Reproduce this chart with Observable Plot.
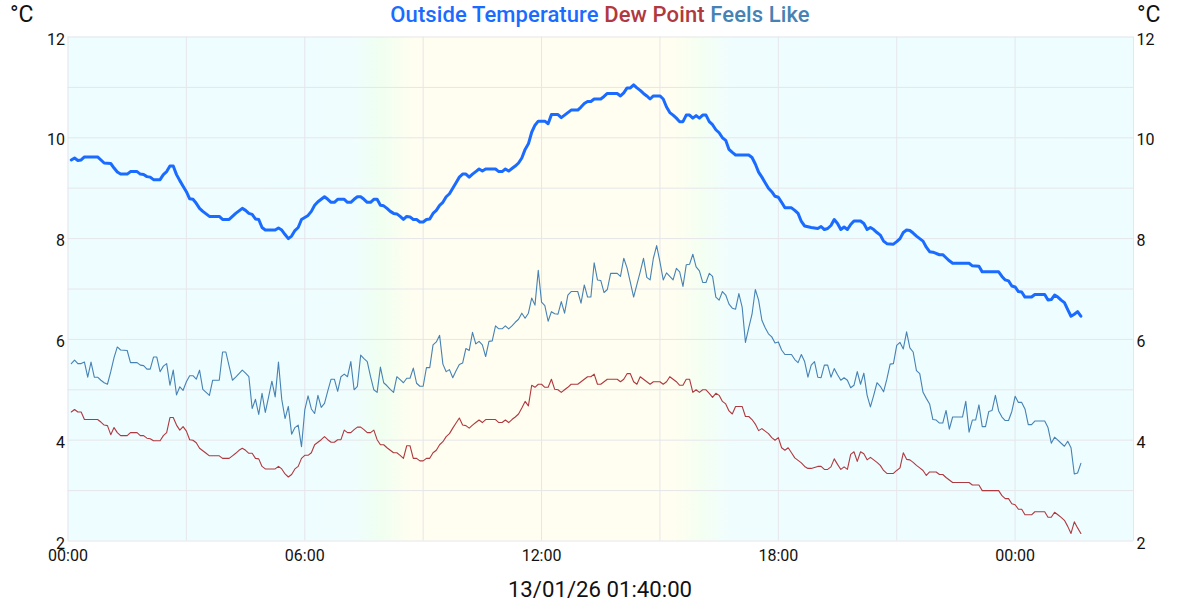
<!DOCTYPE html>
<html><head><meta charset="utf-8">
<script src="https://cdn.jsdelivr.net/npm/d3@7"></script>
<script src="https://cdn.jsdelivr.net/npm/@observablehq/plot@0.6"></script>
<style>
html,body{margin:0;padding:0;background:#fff;font-family:Roboto,sans-serif;color:#111}
#wrap{position:relative;width:1200px;height:600px;overflow:hidden}
#title{position:absolute;left:0;right:0;top:2px;text-align:center;font-size:22px;font-weight:500;line-height:26px;letter-spacing:.1px}
.unit{position:absolute;top:2px;font-size:23px;line-height:26px}
#chart{position:absolute;left:0;top:30px}
#caption{position:absolute;left:0;right:0;top:579px;text-align:center;font-size:22.2px;line-height:20px;font-weight:400}
svg text{font-family:Roboto,sans-serif}
</style></head><body>
<div id="wrap">
<div id="title"></div>
<div class="unit" style="left:10px">°C</div>
<div class="unit" style="left:1137px">°C</div>
<div id="chart"></div>
<div id="caption"></div>
</div>
<script>
// Sample numbers are 5-minute steps after 00:00; only the drawn vertices are listed.
const tempStep=[1,2,3,4,5,9,11,13,14,15,16,18,19,21,22,23,24,25,26,28,29,30,31,32,33,34,35,36,37,38,39,40,41,42,43,46,47,49,50,51,52,53,54,55,56,57,58,59,60,63,64,65,66,67,68,69,70,71,72,73,74,75,76,77,78,79,80,81,82,84,85,86,87,88,89,90,91,92,93,94,95,96,97,98,99,100,101,102,103,104,105,106,107,108,109,110,111,112,113,114,115,116,117,118,119,120,121,122,123,124,125,126,127,130,131,132,133,134,135,136,137,138,139,140,141,142,143,145,146,147,149,150,151,152,153,155,156,157,158,159,160,162,163,164,167,168,169,170,171,172,173,174,175,176,177,178,180,181,182,183,184,185,186,187,188,189,190,191,192,193,194,195,196,197,198,199,200,201,202,203,207,208,209,210,211,212,213,214,215,216,217,218,220,221,222,223,224,226,228,229,230,231,232,233,234,235,236,237,238,239,241,242,243,244,245,246,247,248,249,251,252,253,254,255,256,257,258,259,260,261,262,263,265,266,267,268,269,274,275,277,278,283,284,285,286,287,288,289,290,291,293,294,297,298,299,300,301,302,303,304,305,306,307,308];
const tempVal=[9.56,9.6,9.55,9.56,9.62,9.62,9.5,9.49,9.4,9.32,9.28,9.28,9.33,9.33,9.28,9.27,9.23,9.22,9.17,9.17,9.27,9.33,9.44,9.44,9.27,9.15,9.04,8.93,8.79,8.78,8.7,8.6,8.54,8.49,8.44,8.44,8.38,8.38,8.44,8.5,8.55,8.6,8.56,8.5,8.48,8.39,8.38,8.22,8.17,8.17,8.21,8.17,8.08,8,8.05,8.16,8.22,8.38,8.42,8.46,8.54,8.66,8.73,8.78,8.83,8.78,8.72,8.72,8.78,8.78,8.72,8.72,8.78,8.83,8.83,8.78,8.72,8.72,8.78,8.78,8.66,8.65,8.6,8.54,8.5,8.49,8.44,8.38,8.44,8.43,8.38,8.38,8.33,8.33,8.38,8.39,8.5,8.56,8.66,8.72,8.83,8.89,9,9.11,9.22,9.28,9.28,9.22,9.28,9.33,9.38,9.34,9.38,9.38,9.33,9.33,9.38,9.34,9.39,9.44,9.5,9.6,9.77,9.88,10.11,10.25,10.33,10.33,10.28,10.46,10.46,10.4,10.45,10.5,10.55,10.55,10.61,10.68,10.72,10.72,10.77,10.77,10.82,10.88,10.88,10.83,10.89,10.99,10.99,11.05,10.99,10.94,10.88,10.83,10.77,10.83,10.83,10.77,10.61,10.5,10.45,10.39,10.32,10.32,10.45,10.45,10.39,10.44,10.39,10.45,10.45,10.32,10.26,10.16,10.1,10,9.95,9.77,9.71,9.66,9.66,9.61,9.48,9.32,9.22,9.11,9,8.93,8.84,8.82,8.72,8.61,8.61,8.56,8.5,8.34,8.25,8.22,8.2,8.24,8.18,8.2,8.26,8.38,8.3,8.18,8.23,8.18,8.28,8.35,8.35,8.3,8.18,8.22,8.18,8.12,8.07,7.95,7.9,7.89,7.94,8,8.12,8.17,8.16,8.11,8.05,8,7.95,7.83,7.74,7.73,7.68,7.68,7.62,7.56,7.51,7.51,7.46,7.45,7.34,7.34,7.25,7.18,7.16,7.06,7.04,6.95,6.94,6.84,6.84,6.89,6.89,6.78,6.79,6.88,6.84,6.78,6.73,6.59,6.46,6.5,6.55,6.46];
const dewStep=[1,2,3,4,5,9,10,11,12,13,14,15,16,18,19,21,22,23,24,25,26,28,29,30,31,32,33,34,35,36,37,38,39,40,41,42,43,46,47,49,50,51,52,53,54,55,56,57,58,59,60,63,64,65,66,67,68,69,70,71,72,73,74,75,76,77,78,79,80,81,82,83,84,85,86,87,88,89,90,91,92,93,94,95,96,97,98,99,100,101,102,103,104,105,106,107,108,109,110,111,112,113,114,115,116,117,118,119,120,121,122,123,124,125,126,127,130,131,132,133,134,135,136,137,138,139,140,141,142,143,144,145,146,147,148,149,150,151,152,153,155,156,157,158,159,160,161,162,163,164,167,168,169,170,171,172,173,174,175,176,177,178,180,181,182,183,184,185,186,187,188,189,190,191,192,193,194,195,196,197,198,199,200,201,202,203,205,206,207,208,209,210,211,212,213,214,215,216,217,218,219,220,221,222,223,224,225,226,228,229,230,231,232,233,234,235,236,237,238,239,240,241,242,243,244,245,246,247,248,249,251,252,253,254,255,256,257,258,259,260,261,262,264,265,266,267,268,269,274,275,277,278,283,284,285,286,287,288,289,290,291,293,294,297,298,299,300,301,302,303,304,305,306,307,308];
const dewVal=[4.56,4.61,4.56,4.56,4.41,4.41,4.36,4.3,4.29,4.11,4.25,4.15,4.09,4.09,4.15,4.15,4.09,4.09,4.04,4.03,3.99,3.99,4.09,4.15,4.45,4.45,4.3,4.2,4.27,4.18,4.01,4,3.95,3.84,3.79,3.74,3.69,3.69,3.64,3.64,3.69,3.74,3.8,3.84,3.8,3.74,3.74,3.64,3.63,3.48,3.43,3.43,3.48,3.43,3.33,3.27,3.32,3.43,3.48,3.64,3.7,3.7,3.75,3.91,3.96,4.01,4.07,4.01,3.96,3.96,4.01,4.01,4.2,4.15,4.15,4.21,4.26,4.26,4.21,4.15,4.15,4.2,4.01,3.91,3.91,3.85,3.8,3.75,3.75,3.7,3.64,3.89,3.89,3.64,3.64,3.59,3.59,3.64,3.64,3.75,3.8,3.91,3.97,4.07,4.13,4.24,4.34,4.44,4.3,4.29,4.24,4.3,4.35,4.4,4.35,4.41,4.41,4.35,4.35,4.4,4.35,4.41,4.46,4.52,4.64,4.77,4.68,5.09,5.05,5.11,5.11,5.05,5.05,5.21,5.01,5,4.95,5,5.05,5.11,5.11,5.16,5.21,5.26,5.26,5.31,5.11,5.11,5.16,5.21,5.21,5.16,5.21,5.32,5.32,5.16,5.11,5.26,5.21,5.16,5.11,5.16,5.16,5.11,5.16,5.26,5.21,5.16,5.09,5.09,5.21,5.21,4.95,5,4.95,5,5,4.93,4.85,4.93,4.89,4.77,4.72,4.58,4.52,4.67,4.67,4.47,4.47,4.41,4.32,4.19,4.23,4.18,4.13,4.05,4,4.05,3.85,3.8,3.85,3.75,3.65,3.6,3.55,3.48,3.44,3.44,3.48,3.48,3.42,3.42,3.47,3.63,3.52,3.42,3.47,3.42,3.72,3.77,3.58,3.77,3.73,3.61,3.66,3.61,3.56,3.5,3.4,3.34,3.34,3.4,3.45,3.75,3.62,3.61,3.56,3.5,3.45,3.4,3.3,3.37,3.37,3.32,3.32,3.26,3.21,3.16,3.16,3.11,3.11,3,3,2.9,2.84,2.84,2.74,2.72,2.63,2.63,2.52,2.52,2.58,2.58,2.47,2.47,2.57,2.52,2.47,2.41,2.29,2.15,2.38,2.26,2.15];
const feelsStep=[1,2,3,4,5,6,7,8,9,10,11,12,13,14,15,16,18,19,21,22,23,24,25,26,27,28,29,30,31,32,33,34,35,36,37,38,39,40,41,42,43,44,46,47,48,49,50,51,52,53,54,55,56,57,58,59,60,61,62,63,64,65,66,67,68,69,70,71,72,73,74,75,76,77,78,79,80,81,82,83,84,85,86,87,88,89,90,91,92,93,94,95,96,97,98,99,100,101,102,103,104,105,106,107,108,109,110,111,112,113,114,115,116,117,118,119,120,121,122,123,124,125,126,127,128,129,130,131,132,133,134,135,136,137,138,139,140,141,142,143,144,145,146,147,148,149,150,151,152,153,155,156,157,158,159,160,161,162,163,164,165,167,168,169,170,171,172,173,174,175,176,177,178,179,180,181,182,183,184,185,186,187,188,189,190,191,192,193,194,195,196,197,198,199,200,201,202,203,204,205,206,207,208,209,210,211,212,213,214,215,216,217,218,220,221,222,223,224,225,226,227,228,229,230,231,232,233,234,235,236,237,238,239,240,241,242,243,244,245,246,247,248,249,250,251,252,253,254,255,256,257,258,259,260,261,262,263,264,265,266,267,268,269,272,273,274,275,276,277,278,279,280,281,282,283,284,285,286,287,288,289,290,291,292,293,294,297,298,299,300,301,302,303,304,305,306,307,308];
const feelsVal=[5.52,5.59,5.52,5.52,5.55,5.25,5.55,5.25,5.25,5.19,5.14,5.11,5.36,5.64,5.85,5.79,5.78,5.54,5.54,5.49,5.48,5.41,5.41,5.65,5.65,5.36,5.47,5.52,5.09,5.39,4.9,5.06,4.99,5.16,5.28,5.28,5.21,5.39,5.01,4.95,4.89,5.19,5.19,5.75,5.75,5.47,5.19,5.25,5.32,5.39,5.33,5.26,4.63,4.81,4.51,4.93,4.55,4.86,5.17,4.86,5.55,4.81,4.43,4.67,4.12,4.25,4.3,3.87,4.6,4.88,4.62,4.53,4.89,4.65,4.73,4.98,5.21,5.21,4.97,5.26,5.31,5.26,5.56,5,5.07,5.69,5.62,5.56,5.26,5,4.95,5.45,5.14,5.08,5.01,4.95,5.26,5.2,5.14,5.23,5.23,5.43,5.13,5.07,5.07,5.44,5.44,5.89,5.95,6.08,5.51,5.36,5.4,5.24,5.38,5.5,5.53,5.82,5.78,6.14,5.91,5.96,5.89,5.66,5.96,5.97,6.27,6.21,6.21,6.27,6.21,6.27,6.34,6.4,6.52,6.42,6.52,6.82,6.68,7.37,6.74,6.67,6.36,6.55,6.51,6.5,6.75,6.52,6.88,6.95,6.95,6.72,7.08,6.84,6.84,7.52,7.18,7.17,6.93,6.99,7.31,7.31,7.25,7.61,7.42,7.13,6.84,7.09,7.34,7.61,7.23,7.18,7.61,7.86,7.54,7.18,7.32,7.25,7.18,7.41,7.34,7.05,7.48,7.49,7.69,7.44,7.36,7.13,7.13,7.31,7.25,6.84,6.78,6.95,6.88,6.7,6.62,6.6,6.91,6.64,5.94,6.23,6.5,6.99,6.78,6.38,6.23,6.11,6.05,5.93,5.95,5.79,5.7,5.7,5.6,5.54,5.7,5.56,5.25,5.49,5.56,5.25,5.24,5.49,5.49,5.25,5.42,5.3,5.19,5.24,5.19,5.04,5.09,5.36,5.11,5.33,4.89,4.66,4.89,5.14,5.07,4.96,5.21,5.51,5.52,5.88,5.94,5.81,6.15,5.83,5.75,5.38,5.32,4.95,4.83,4.72,4.41,4.4,4.34,4.34,4.59,4.22,4.46,4.46,4.77,4.16,4.4,4.4,4.7,4.27,4.27,4.57,4.59,4.89,4.58,4.46,4.39,4.39,4.57,4.87,4.75,4.75,4.62,4.31,4.31,4.38,4.38,4.25,3.94,4.06,4,3.94,3.88,3.98,3.85,3.33,3.35,3.54];

const seriesNames=["Outside Temperature","Dew Point","Feels Like"];
const seriesColors=["#1a6bff","#b0393f","#4682b4"];
const yTicks=[2,4,6,8,10,12];
const yGrid=[2,3,4,5,6,7,8,9,10,11,12];
const xGridHours=[0,3,6,9,12,15,18,21,24,27];
const xTickHours=[0,6,12,18,24];
const captionText="13/01/26 01:40:00";
const bgStopHours=[0,7.2,7.95,8.7,15.4,16.05,16.85,27];
const bgStopColors=["#eefdff","#effdff","#f0fff0","#fffef0","#fffef0","#f4fff2","#effdff","#eefdff"];

document.getElementById("title").innerHTML=seriesNames.map((n,i)=>`<span style="color:${seriesColors[i]}">${n}</span>`).join(" ");
document.getElementById("caption").textContent=captionText;

const at=h=>new Date(Date.UTC(2026,0,12,0,Math.round(h*60)));
const rows=(steps,vals)=>steps.map((s,i)=>({t:at(s/12),v:vals[i]}));
const pad=n=>String(n).padStart(2,"0");
const hhmm=d=>pad(d.getUTCHours())+":"+pad(d.getUTCMinutes());

function gradientDefs(){
  const s=d3.create("svg:defs");
  const g=s.append("linearGradient").attr("id","dayBg").attr("x1","0").attr("x2","1").attr("y1","0").attr("y2","0");
  bgStopHours.forEach((h,i)=>g.append("stop").attr("offset",h/27).attr("stop-color",bgStopColors[i]));
  return s.node();
}

const axisCommon={tickSize:0,fontSize:16,fill:"#111"};
const plot=Plot.plot({
  width:1200,height:540,
  marginLeft:67.5,marginRight:67,marginTop:6.5,marginBottom:29.5,
  style:{background:"transparent",fontFamily:"Roboto,sans-serif",overflow:"visible"},
  x:{type:"utc",domain:[at(0),at(27)],label:null},
  y:{domain:[2,12],label:null},
  marks:[
    gradientDefs,
    Plot.rect([0],{x1:()=>at(0),x2:()=>at(27),y1:()=>2,y2:()=>12,fill:"url(#dayBg)"}),
    Plot.ruleY(yGrid,{stroke:"#e6e6eb",strokeWidth:1}),
    Plot.ruleX(xGridHours.map(at),{stroke:"#e6e6eb",strokeWidth:1}),
    Plot.axisY(yTicks,{anchor:"left",tickPadding:3,dy:2.5,label:null,tickFormat:d=>String(d),...axisCommon}),
    Plot.axisY(yTicks,{anchor:"right",tickPadding:3,dy:2.5,label:null,tickFormat:d=>String(d),...axisCommon}),
    Plot.axisX(xTickHours.map(at),{anchor:"bottom",tickPadding:9,label:null,tickFormat:hhmm,...axisCommon}),
    Plot.line(rows(tempStep,tempVal),{x:"t",y:"v",stroke:seriesColors[0],strokeWidth:3,curve:"linear"}),
    Plot.line(rows(dewStep,dewVal),{x:"t",y:"v",stroke:seriesColors[1],strokeWidth:1.1,curve:"linear"}),
    Plot.line(rows(feelsStep,feelsVal),{x:"t",y:"v",stroke:seriesColors[2],strokeWidth:1.1,curve:"linear"})
  ]
});
document.getElementById("chart").appendChild(plot);
</script>
</body></html>
